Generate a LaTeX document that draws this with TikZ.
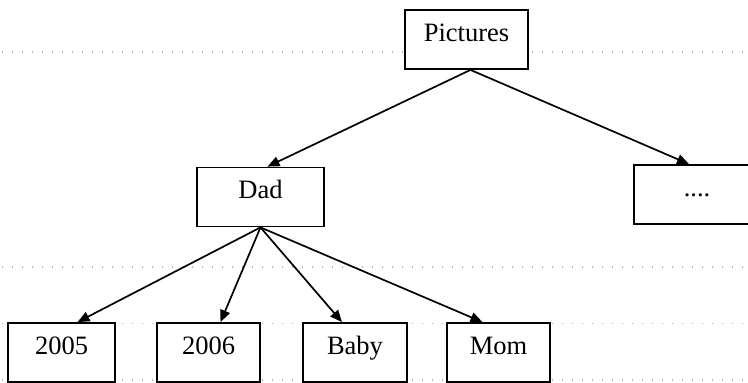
\documentclass[tikz,border=0pt]{standalone}
\usepackage{fontspec}
\setmainfont{Liberation Serif}
\usetikzlibrary{arrows.meta}
\begin{document}
\begin{tikzpicture}[x=1pt,y=-1pt,
  guide/.style={draw=black!30, line width=1.1pt, dash pattern=on 1.1pt off 8.9pt},
  box/.style={draw, fill=white, line width=1.8pt, rectangle, inner xsep=0pt, inner ysep=0pt,
    text height=31pt, text depth=28pt, font=\fontsize{26.5}{30}\selectfont},
  bigbox/.style={box, minimum width=125pt},
  smallbox/.style={box, minimum width=104pt},
  link/.style={line width=1.7pt, -{Triangle[length=12pt,width=10pt]}}]
\useasboundingbox (0,0) rectangle (748,383);
% faint dotted guide lines
\draw[guide] (2,52) -- (746,52);
\draw[guide] (2,267) -- (744,267);
\draw[guide] (2,323.5) -- (744,323.5);
\draw[guide] (2,380) -- (744,380);
% nodes
\node[bigbox, minimum width=123pt] (pic) at (466.5,39.5) {Pictures};
\node[bigbox, minimum width=127pt] (dad) at (260.5,197) {Dad};
\node[bigbox, minimum width=126pt] (dots) at (697,194.5) {....};
\node[smallbox, minimum width=107pt] (y05) at (61.5,352.5) {2005};
\node[smallbox, minimum width=103pt] (y06) at (208.5,352.5) {2006};
\node[smallbox] (baby) at (355,352.5) {Baby};
\node[smallbox, minimum width=103pt] (mom) at (498.5,352.5) {Mom};
% connectors
\draw[link] ([xshift=4pt]pic.south) -- ([xshift=7pt]dad.north);
\draw[link] ([xshift=4pt]pic.south) -- ([xshift=-8pt]dots.north);
\draw[link] (dad.south) -- ([xshift=16pt]y05.north);
\draw[link] (dad.south) -- ([xshift=12pt]y06.north);
\draw[link] (dad.south) -- ([xshift=-13pt]baby.north);
\draw[link] (dad.south) -- ([xshift=-16pt]mom.north);
\end{tikzpicture}
\end{document}
